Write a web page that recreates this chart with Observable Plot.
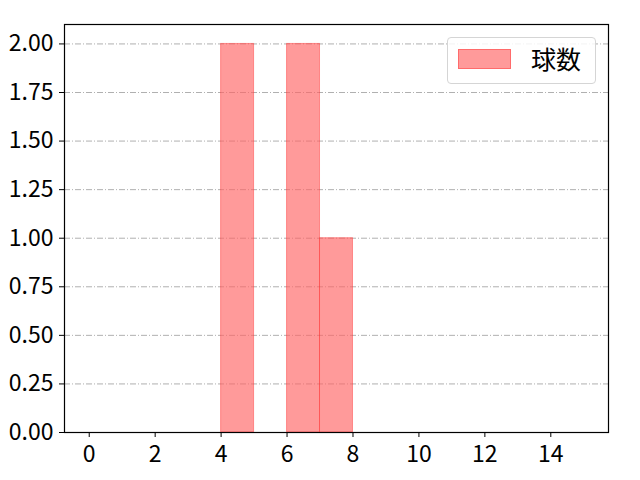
<!DOCTYPE html>
<html><head><meta charset="utf-8">
<script src="https://cdn.jsdelivr.net/npm/d3@7"></script>
<script src="https://cdn.jsdelivr.net/npm/@observablehq/plot@0.6"></script>
<style>
body{margin:0;background:#fff;}
#c{position:relative;width:640px;height:480px;}
#c svg text{font-size:23px !important;font-family:"Noto Sans CJK JP",sans-serif;}
#legend{position:absolute;left:447px;top:37px;width:149px;height:47px;border:1px solid #d5d5d5;border-radius:4px;background:rgba(255,255,255,0.85);box-sizing:border-box;font-family:"Noto Sans CJK JP",sans-serif;font-size:25px;line-height:25px;}
#legend .sw{position:absolute;left:10px;top:11px;width:53px;height:20px;background:rgba(255,100,100,0.65);border:1px solid rgba(255,60,60,0.5);box-sizing:border-box;}
#legend .tx{position:absolute;left:83px;top:8px;color:#000;}
</style></head>
<body><div id="c"><div id="legend"><div class="sw"></div><div class="tx">球数</div></div></div>
<script>
const binStart = [4, 6, 7];
const binEnd = [5, 7, 8];
const counts = [2, 2, 1];
const xTicks = [0, 2, 4, 6, 8, 10, 12, 14];
const yTicks = [0, 0.25, 0.5, 0.75, 1.0, 1.25, 1.5, 1.75, 2.0];
const seriesName = "球数";

const bins = binStart.map((s, i) => ({x1: s, x2: binEnd[i], y: counts[i]}));

const chart = Plot.plot({
  width: 640, height: 480,
  marginLeft: 64, marginRight: 32, marginTop: 24, marginBottom: 48,
  style: {fontFamily: "'Noto Sans CJK JP', sans-serif", fontSize: "23px", color: "#000", background: "#fff"},
  x: {domain: [-0.75, 15.75], label: null},
  y: {domain: [0, 2.1], label: null},
  marks: [
    Plot.ruleY(yTicks, {stroke: "#b0b0b0", strokeWidth: 1, strokeDasharray: "6,2,1,2"}),
    Plot.rectY(bins, {x1: "x1", x2: "x2", y: "y", fill: "#ff6464", fillOpacity: 0.65, stroke: "#ff3030", strokeOpacity: 0.45, strokeWidth: 1, inset: 0}),
    Plot.frame({stroke: "#000", strokeWidth: 1.2}),
    Plot.axisX({ticks: xTicks, tickSize: 5, tickPadding: 8, label: null, tickFormat: d => String(d)}),
    Plot.axisY({ticks: yTicks, tickSize: 5, tickPadding: 6, label: null, tickFormat: d => d.toFixed(2)})
  ]
});
document.getElementById("c").prepend(chart);
chart.style.position = "absolute"; chart.style.left = "0"; chart.style.top = "0";
</script></body></html>
